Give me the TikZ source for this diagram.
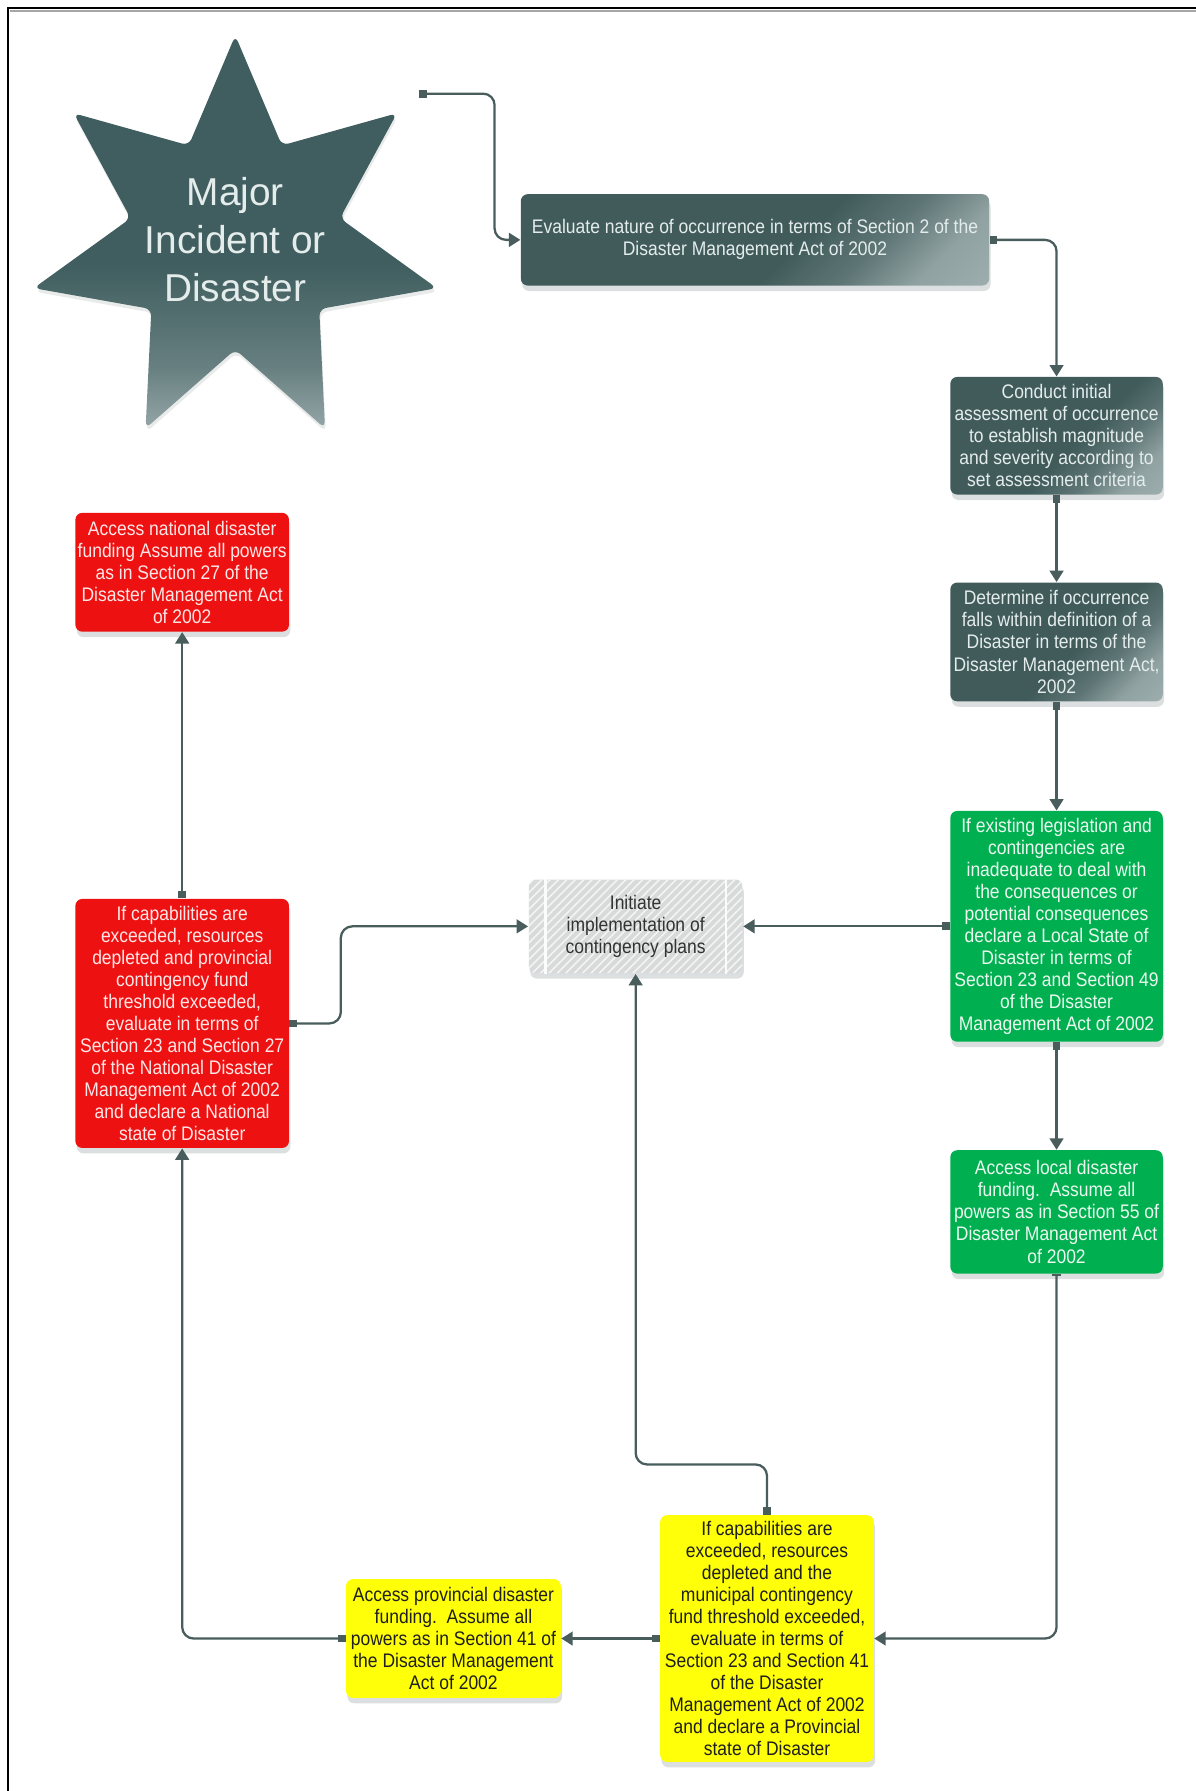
\documentclass[tikz,border=0pt]{standalone}
\usepackage{fontspec}
\setmainfont{Liberation Sans}
\newfontfamily\boxfont{Liberation Sans}[FakeStretch=0.89]
\usetikzlibrary{arrows.meta,shadows,patterns.meta}

\definecolor{slate}{HTML}{415B5B}
\definecolor{slatelt}{HTML}{B2C0C0}
\definecolor{starslate}{HTML}{405E5F}
\definecolor{starlow}{HTML}{95A6A7}
\definecolor{slatetext}{HTML}{E4ECEC}
\definecolor{linecol}{HTML}{4A5D5D}
\definecolor{boxgreen}{HTML}{00B050}
\definecolor{greentext}{HTML}{EAF8EF}
\definecolor{boxred}{HTML}{EE1111}
\definecolor{redtext}{HTML}{FFE6E6}
\definecolor{boxyellow}{HTML}{FFFF0A}
\definecolor{initgray}{HTML}{D8DADA}

% box fill: dark slate with a light patch towards one corner
\pgfdeclarehorizontalshading{slategrad}{100bp}{color(0bp)=(slate); color(56bp)=(slate); color(66bp)=(slate!75!slatelt); color(76bp)=(slate!30!slatelt); color(100bp)=(slatelt)}
% star fill: dark above, lighter towards the lower tips
\pgfdeclareverticalshading{stargrad}{100bp}{color(0bp)=(starlow); color(25bp)=(starlow); color(33bp)=(starslate!55!starlow); color(46bp)=(starslate); color(100bp)=(starslate)}

\tikzset{
  every node/.style={font=\boxfont\fontsize{8.6pt}{9.65pt}\selectfont, align=center, inner sep=0pt},
  sz/.style 2 args={minimum width=#1*0.5pt, minimum height=#2*0.5pt},
  boxshadow/.style={drop shadow={shadow xshift=0.6pt, shadow yshift=-2.4pt, opacity=0.2, fill=linecol}},
  slatebox/.style={boxshadow, rounded corners=3pt, shade, shading=slategrad, shading angle=-45, text=slatetext},
  greenbox/.style={boxshadow, rounded corners=3pt, fill=boxgreen, text=greentext},
  redbox/.style={boxshadow, rounded corners=3pt, fill=boxred, text=redtext},
  yellowbox/.style={boxshadow, rounded corners=3pt, fill=boxyellow, text=black!88},
  initbox/.style={boxshadow, rounded corners=3pt, preaction={fill=initgray},
    pattern={Lines[angle=45,distance=2.6pt,line width=0.7pt]}, pattern color=white!70!initgray, text=black!80},
  conn/.style={draw=linecol, line width=1pt, rounded corners=5pt,
    {Square[length=3.4pt,width=3.4pt]}-{Triangle[length=5pt,width=6pt]}},
  connbar/.style={conn, {Bar[width=4pt,line width=1pt]}-{Triangle[length=5pt,width=6pt]}}
}

\begin{document}
\begin{tikzpicture}[x=0.5pt,y=-0.5pt]
\useasboundingbox (0,0) rectangle (1047,1568);

% page frame
\draw[black, line width=0.9pt] (7,1568) -- (7,7) -- (1047,7);
\draw[black!35, line width=0.6pt] (9,9.6) -- (1047,9.6);

% seven-pointed star
\shade[shading=stargrad, rounded corners=3pt, shift={(206,212)},
       drop shadow={shadow xshift=0.4pt, shadow yshift=-1.6pt, opacity=0.12, fill=linecol}]
  (-90:181) \foreach \k in {1,...,13} { -- ({-90+\k*360/14}:{ifthenelse(mod(\k,2)==1,94,181)}) } -- cycle;
\node[font=\rmfamily\fontsize{17pt}{21pt}\selectfont, text=slatetext] (star) at (206,210) {Major\\Incident or\\Disaster};
\coordinate (starout) at (367,82);

% process boxes
\node[slatebox, sz={410}{80}] (eval) at (661,210)
  {Evaluate nature of occurrence in terms of Section 2 of the\\Disaster Management Act of 2002};
\node[slatebox, sz={186}{103}] (conduct) at (925,381.5)
  {Conduct initial\\assessment of occurrence\\to establish magnitude\\and severity according to\\set assessment criteria};
\node[slatebox, sz={186}{104}] (determine) at (925,562)
  {Determine if occurrence\\falls within definition of a\\Disaster in terms of the\\Disaster Management Act,\\2002};
\node[greenbox, sz={186}{202}] (local) at (925,811)
  {If existing legislation and\\contingencies are\\inadequate to deal with\\the consequences or\\potential consequences\\declare a Local State of\\Disaster in terms of\\Section 23 and Section 49\\of the Disaster\\Management Act of 2002};
\node[greenbox, sz={186}{108}] (localfund) at (925,1061)
  {Access local disaster\\funding.\ \ Assume all\\powers as in Section 55 of\\Disaster Management Act\\of 2002};
\node[yellowbox, sz={187}{216}] (prov) at (671.5,1434.5)
  {If capabilities are\\exceeded, resources\\depleted and the\\municipal contingency\\fund threshold exceeded,\\evaluate in terms of\\Section 23 and Section 41\\of the Disaster\\Management Act of 2002\\and declare a Provincial\\state of Disaster};
\node[yellowbox, sz={188}{104}] (provfund) at (397,1434.5)
  {Access provincial disaster\\funding.\ \ Assume all\\powers as in Section 41 of\\the Disaster Management\\Act of 2002};
\node[redbox, sz={187}{218}] (nat) at (159.5,896)
  {If capabilities are\\exceeded, resources\\depleted and provincial\\contingency fund\\threshold exceeded,\\evaluate in terms of\\Section 23 and Section 27\\of the National Disaster\\Management Act of 2002\\and declare a National\\state of Disaster};
\node[redbox, sz={187}{104}] (natfund) at (159.5,501)
  {Access national disaster\\funding Assume all powers\\as in Section 27 of the\\Disaster Management Act\\of 2002};
\node[initbox, sz={187}{82}] (init) at (556.5,811)
  {Initiate\\implementation of\\contingency plans};
\draw[white!88!initgray, line width=1.2pt] ([xshift=7.5pt]init.north west) -- ([xshift=7.5pt]init.south west);
\draw[white!88!initgray, line width=1.2pt] ([xshift=-7.5pt]init.north east) -- ([xshift=-7.5pt]init.south east);

% connectors
\draw[conn] (starout) -- ++(66,0) |- (eval.west);
\draw[conn] (eval.east) -| (conduct.north);
\draw[conn] (conduct.south) -- (determine.north);
\draw[conn] (determine.south) -- (local.north);
\draw[conn] (local.west) -- (init.east);
\draw[conn] (local.south) -- (localfund.north);
\draw[connbar] (localfund.south) |- (prov.east);
\draw[conn] (prov.north) -- ++(0,-44) -| (init.south);
\draw[conn] (prov.west) -- (provfund.east);
\draw[conn] (provfund.west) -| (nat.south);
\draw[conn] (nat.east) -- ++(45,0) |- (init.west);
\draw[conn] (nat.north) -- (natfund.south);
\end{tikzpicture}
\end{document}
